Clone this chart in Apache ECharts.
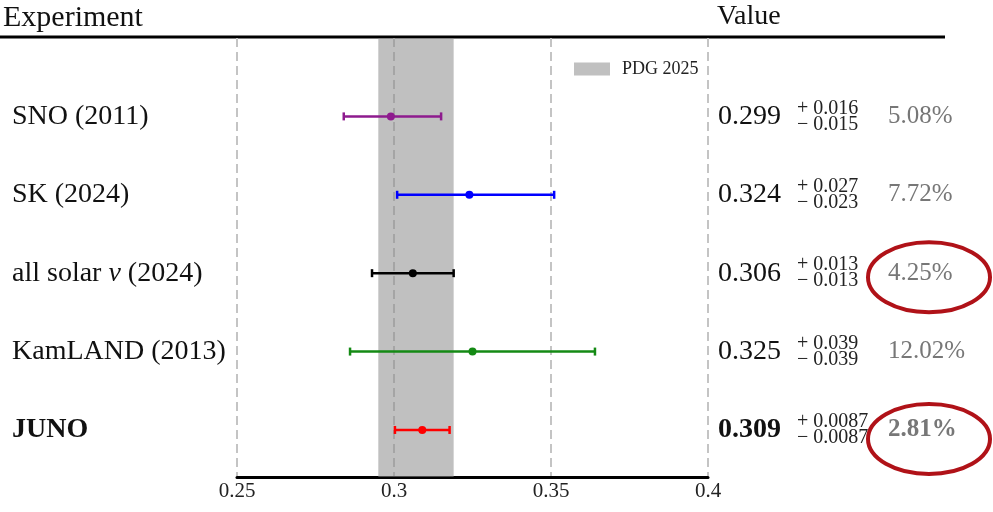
<!DOCTYPE html>
<html>
<head>
<meta charset="utf-8">
<script src="https://cdn.jsdelivr.net/npm/echarts@6/dist/echarts.min.js"></script>
<style>
html,body{margin:0;padding:0;background:#fff;}
#chart{width:993px;height:512px;}
</style>
</head>
<body>
<div id="chart"></div>
<script>
// ---- data ----
const experiments = ['SNO (2011)', 'SK (2024)', 'all solar ν (2024)', 'KamLAND (2013)', 'JUNO'];
const centralValues = [0.299, 0.324, 0.306, 0.325, 0.309];
const errPlus = [0.016, 0.027, 0.013, 0.039, 0.0087];
const errMinus = [0.015, 0.023, 0.013, 0.039, 0.0087];
const valueLabels = ['0.299', '0.324', '0.306', '0.325', '0.309'];
const errPlusLabels = ['0.016', '0.027', '0.013', '0.039', '0.0087'];
const errMinusLabels = ['0.015', '0.023', '0.013', '0.039', '0.0087'];
const relErrLabels = ['5.08%', '7.72%', '4.25%', '12.02%', '2.81%'];
const highlighted = [false, false, true, false, true];
const boldRows = [false, false, false, false, true];
const pdgBand = [0.295, 0.319];
const pdgLabel = 'PDG 2025';
const xMin = 0.25, xMax = 0.4, xStep = 0.05;

// ---- styles ----
const colors = ['#8e1b8e', '#0000ff', '#000000', '#148a14', '#ff0000'];
const SERIF = '"Liberation Serif", "Times New Roman", Times, serif';

const chart = echarts.init(document.getElementById('chart'), null, {renderer: 'canvas'});

const barData = experiments.map((_, i) => [i, centralValues[i] - errMinus[i], centralValues[i], centralValues[i] + errPlus[i]]);
const annData = experiments.map((_, i) => [i]);

function renderBar(params, api) {
  const i = api.value(0);
  const lo = api.coord([api.value(1), i]);
  const c = api.coord([api.value(2), i]);
  const hi = api.coord([api.value(3), i]);
  const col = colors[params.dataIndex];
  const st = {stroke: col, lineWidth: 2.5};
  const cap = 4;
  return {
    type: 'group',
    children: [
      {type: 'line', shape: {x1: lo[0], y1: lo[1], x2: hi[0], y2: hi[1]}, style: st},
      {type: 'line', shape: {x1: lo[0], y1: lo[1] - cap, x2: lo[0], y2: lo[1] + cap}, style: st},
      {type: 'line', shape: {x1: hi[0], y1: hi[1] - cap, x2: hi[0], y2: hi[1] + cap}, style: st},
      {type: 'circle', shape: {cx: c[0], cy: c[1], r: 4}, style: {fill: col}}
    ]
  };
}

function renderBand(params, api) {
  const a = api.coord([pdgBand[0], -1]);
  const b = api.coord([pdgBand[1], 4.6]);
  return {
    type: 'rect',
    shape: {x: a[0], y: a[1], width: b[0] - a[0], height: b[1] - a[1]},
    style: {fill: 'rgba(140,140,140,0.55)'}
  };
}

const ellipseDy = {2: 4, 4: 9};

function renderAnn(params, api) {
  const i = params.dataIndex;
  const p = api.coord([xMax, i]);
  const xR = p[0], y = p[1];
  const bold = boldRows[i];
  const children = [
    {type: 'text', x: xR + 10, y: y, style: {text: valueLabels[i], font: (bold ? 'bold ' : '') + '28px ' + SERIF, fill: '#111', verticalAlign: 'middle', align: 'left'}},
    {type: 'text', x: xR + 89, y: y - 8, style: {text: '+ ' + errPlusLabels[i], font: '20px ' + SERIF, fill: '#222', verticalAlign: 'middle', align: 'left'}},
    {type: 'text', x: xR + 89, y: y + 8, style: {text: '\u2212 ' + errMinusLabels[i], font: '20px ' + SERIF, fill: '#222', verticalAlign: 'middle', align: 'left'}},
    {type: 'text', x: xR + 180, y: y, style: {text: relErrLabels[i], font: (bold ? 'bold ' : '') + '25px ' + SERIF, fill: '#777', verticalAlign: 'middle', align: 'left'}}
  ];
  if (highlighted[i]) {
    const cx = xR + 221, cy = y + (ellipseDy[i] || 5), rx = 61, ry = 35;
    const d = 'M' + (cx - rx) + ',' + cy +
      ' A' + rx + ',' + ry + ' 0 1,0 ' + (cx + rx) + ',' + cy +
      ' A' + rx + ',' + ry + ' 0 1,0 ' + (cx - rx) + ',' + cy + ' Z';
    children.push({
      type: 'path',
      shape: {pathData: d},
      style: {fill: null, stroke: '#b01218', lineWidth: 4}
    });
  }
  return {type: 'group', children: children};
}

const option = {
  animation: false,
  backgroundColor: '#ffffff',
  grid: {left: 237, right: 285, top: 38, bottom: 35, containLabel: false, outerBoundsMode: 'none'},
  legend: {
    left: 569, top: 55,
    itemWidth: 36, itemHeight: 13, itemGap: 10,
    textStyle: {fontFamily: SERIF, fontSize: 18, color: '#222', padding: [0, 0, 0, 7]},
    data: [{name: pdgLabel, icon: 'rect', itemStyle: {color: '#c0c0c0', opacity: 1}}]
  },
  xAxis: {
    type: 'value', min: xMin, max: xMax, interval: xStep,
    axisLine: {show: true, onZero: false, lineStyle: {color: '#000', width: 3}},
    axisTick: {show: false},
    axisLabel: {fontFamily: SERIF, fontSize: 21, color: '#222', margin: 4},
    splitLine: {show: true, lineStyle: {color: '#c4c4c4', width: 2, type: [9, 5]}},
    name: 'sin\u00b2\u03b8\u2081\u2082', nameLocation: 'middle', nameGap: 40,
    nameTextStyle: {fontFamily: SERIF, fontSize: 22, color: '#222'}
  },
  yAxis: {
    type: 'value', min: -1, max: 4.6, interval: 1, inverse: true,
    axisLine: {show: false}, axisTick: {show: false}, splitLine: {show: false},
    axisLabel: {
      show: true, align: 'left', margin: 225,
      formatter: function (v) {
        if (Math.abs(v - Math.round(v)) > 1e-6) return '';
        const k = Math.round(v);
        if (k < 0 || k >= experiments.length) return '';
        const name = experiments[k];
        if (boldRows[k]) return '{b|' + name + '}';
        if (name.indexOf('ν') >= 0) {
          const parts = name.split('ν');
          return '{n|' + parts[0] + '}{i|ν}{n|' + parts[1] + '}';
        }
        return '{n|' + name + '}';
      },
      rich: {
        n: {fontFamily: SERIF, fontSize: 28, color: '#111'},
        b: {fontFamily: SERIF, fontSize: 28, color: '#111', fontWeight: 'bold'},
        i: {fontFamily: SERIF, fontSize: 28, color: '#111', fontStyle: 'italic'}
      }
    }
  },
  graphic: [
    {type: 'text', left: 3, top: 3, style: {text: 'Experiment', font: '30px ' + SERIF, fill: '#111'}},
    {type: 'text', left: 717, top: 3, style: {text: 'Value', font: '28px ' + SERIF, fill: '#111'}},
    {type: 'line', shape: {x1: 0, y1: 37, x2: 945, y2: 37}, style: {stroke: '#000', lineWidth: 3}}
  ],
  series: [
    {name: pdgLabel, type: 'custom', renderItem: renderBand, data: [[0]], itemStyle: {color: '#c0c0c0'}, z: 1, silent: true},
    {name: 'bars', type: 'custom', renderItem: renderBar, data: barData, z: 3, silent: true},
    {name: 'ann', type: 'custom', renderItem: renderAnn, data: annData, z: 3, silent: true, clip: false}
  ]
};
chart.setOption(option);
</script>
</body>
</html>
